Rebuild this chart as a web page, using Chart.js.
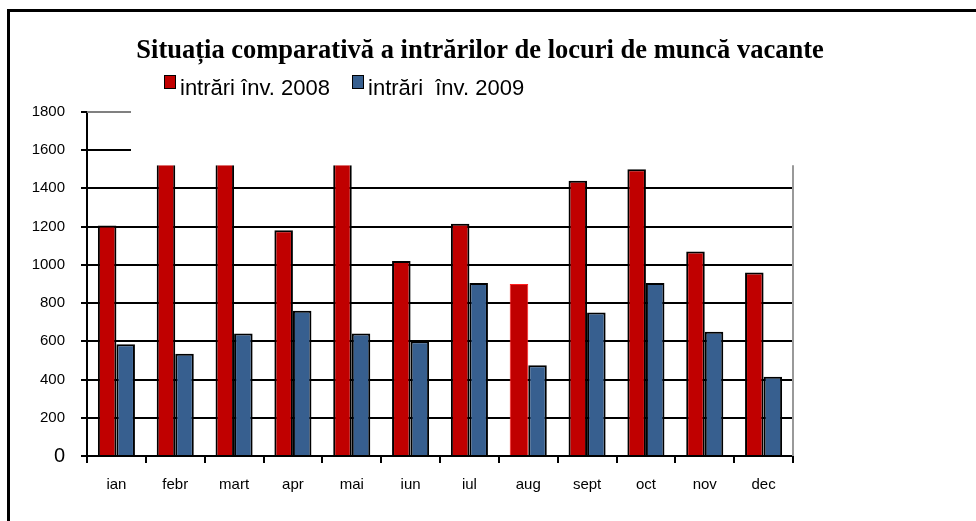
<!DOCTYPE html>
<html>
<head>
<meta charset="utf-8">
<script src="https://cdn.jsdelivr.net/npm/chart.js@4/dist/chart.umd.min.js"></script>
<style>
  html, body { margin:0; padding:0; background:#fff; }
  #wrap { position:relative; width:976px; height:521px; overflow:hidden; }
  #frame { position:absolute; left:7px; top:9px; width:1200px; height:800px;
           border-top:3px solid #000; border-left:3px solid #000; box-sizing:border-box; }
  canvas { position:absolute; left:0; top:0; }
  #legend { position:absolute; left:164px; top:74px; font-family:"Liberation Sans", Arial, sans-serif;
            font-size:22px; color:#000; white-space:pre; display:flex; }
  .item { display:flex; align-items:flex-start; margin-right:22px; }
  .box { width:10px; height:12px; border:1.5px solid #000; margin-right:4px; margin-top:1px; }
  .txt { margin-top:1px; }
</style>
</head>
<body>
<div id="wrap">
  <div id="frame"></div>
  <canvas id="c" width="976" height="521"></canvas>
  <div id="legend"></div>
</div>
<script>
const chartTitle = 'Situația comparativă a intrărilor de locuri de muncă vacante';
const categories = ['ian','febr','mart','apr','mai','iun','iul','aug','sept','oct','nov','dec'];
const seriesNames = ['intrări înv. 2008', 'intrări  înv. 2009'];
const series2008 = [1205, 1520, 1520, 1180, 1520, 1020, 1215, 900, 1440, 1500, 1070, 960];
const series2009 = [585, 535, 640, 760, 640, 600, 905, 475, 750, 905, 650, 415];
const yTickValues = [0, 200, 400, 600, 800, 1000, 1200, 1400, 1600, 1800];
const WALL_TOP = 1520;

const RED = '#C00000';
const BLUE = '#375F8F';
const colors = [RED, BLUE];

// HTML legend
const lg = document.getElementById('legend');
seriesNames.forEach((n, i) => {
  const it = document.createElement('div'); it.className = 'item';
  const b = document.createElement('div'); b.className = 'box'; b.style.background = colors[i];
  const t = document.createElement('div'); t.className = 'txt'; t.textContent = n;
  it.appendChild(b); it.appendChild(t); lg.appendChild(it);
});

const wallPlugin = {
  id: 'wall',
  beforeDatasetsDraw(chart) {
    const { ctx, chartArea, scales } = chart;
    const y = scales.y;
    const left = chartArea.left, right = chartArea.right, bottom = chartArea.bottom;
    const wallY = y.getPixelForValue(WALL_TOP);
    ctx.save();
    ctx.lineWidth = 2;
    yTickValues.forEach(v => {
      if (v === 0) return;
      const py = Math.round(y.getPixelForValue(v));
      const x2 = v > WALL_TOP ? left + 44 : right;
      ctx.strokeStyle = v === yTickValues[yTickValues.length - 1] ? '#808080' : '#000';
      ctx.beginPath(); ctx.moveTo(left, py); ctx.lineTo(x2, py); ctx.stroke();
    });
    ctx.strokeStyle = '#999';
    ctx.beginPath(); ctx.moveTo(right, wallY); ctx.lineTo(right, bottom); ctx.stroke();
    ctx.restore();
  }
};

new Chart(document.getElementById('c'), {
  type: 'bar',
  data: {
    labels: categories,
    datasets: [
      { label: seriesNames[0], data: series2008, backgroundColor: RED,
        borderColor: (c) => c.dataIndex === 7 ? '#FF2020' : '#000',
        borderWidth: (c) => c.dataIndex === 7 ? 1
          : (c.raw >= WALL_TOP ? { left: 2, right: 2, top: 0, bottom: 0 } : 2),
        borderSkipped: 'start' },
      { label: seriesNames[1], data: series2009, backgroundColor: BLUE,
        borderColor: '#000', borderWidth: 2 }
    ]
  },
  options: {
    responsive: false,
    animation: false,
    layout: { padding: { left: 0, right: 16, top: 0, bottom: 14 } },
    datasets: { bar: { categoryPercentage: 0.63, barPercentage: 1.0 } },
    plugins: {
      legend: { display: false },
      tooltip: { enabled: false },
      title: {
        display: true, text: chartTitle, color: '#000',
        font: { family: '"Liberation Serif", "Times New Roman", serif', size: 26.5, weight: 'bold' },
        padding: { top: 35, bottom: 45 }
      }
    },
    scales: {
      x: {
        offset: true,
        grid: { offset: true, display: true, drawOnChartArea: false, drawTicks: true,
                tickLength: 7, color: '#000', lineWidth: 2 },
        border: { display: true, color: '#000', width: 2 },
        ticks: { color: '#000', padding: 13,
                 font: { family: '"Liberation Sans", Arial, sans-serif', size: 15 } }
      },
      y: {
        min: 0, max: 1800,
        afterBuildTicks: (s) => { s.ticks = yTickValues.map(v => ({ value: v })); },
        afterFit: (s) => { s.width = 87; },
        grid: { display: true, drawOnChartArea: false, drawTicks: true, tickLength: 6,
                color: '#000', lineWidth: 2 },
        border: { display: true, color: '#000', width: 2 },
        ticks: { color: '#000', padding: 16,
                 callback: (v) => String(v),
                 font: (c) => ({ family: '"Liberation Sans", Arial, sans-serif',
                                 size: c.tick && c.tick.value === 0 ? 20 : 15 }) }
      },
      y2: {
        position: 'right', display: true,
        afterFit: (s) => { s.width = 167; },
        grid: { display: false }, border: { display: false }, ticks: { display: false }
      }
    }
  },
  plugins: [wallPlugin]
});
</script>
</body>
</html>
